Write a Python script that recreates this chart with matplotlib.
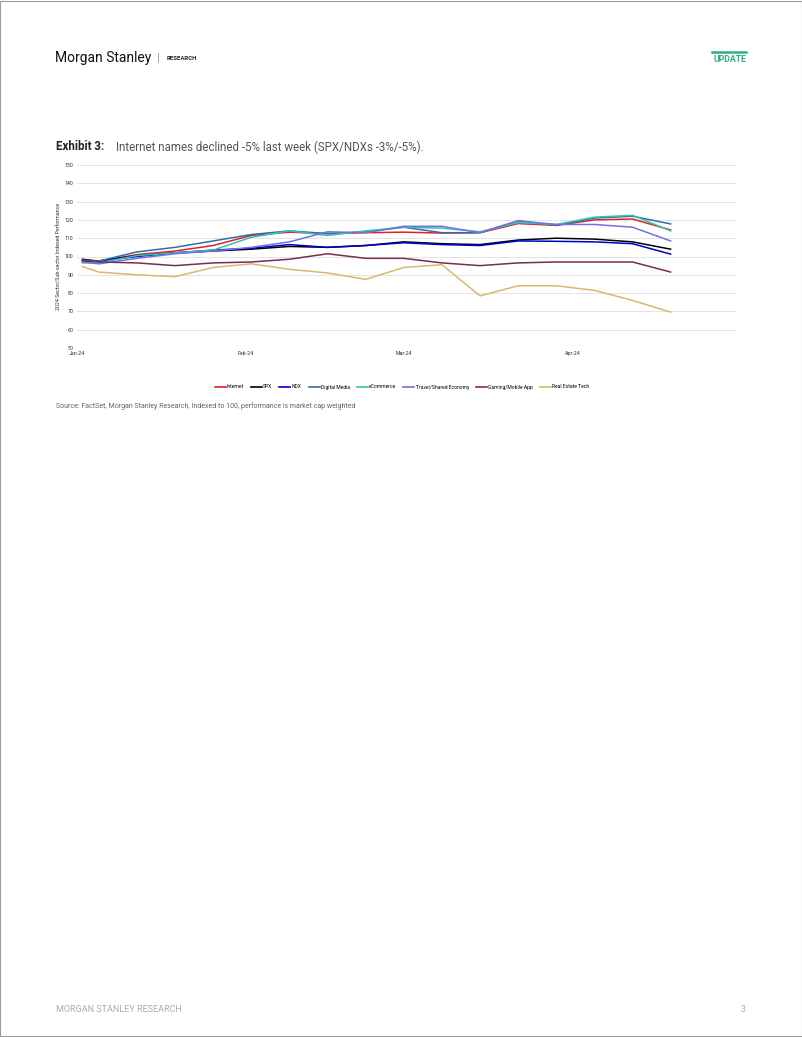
import matplotlib
matplotlib.use("Agg")
import matplotlib.pyplot as plt
import pandas as pd

plt.rcParams['font.family'] = ['Roboto', 'DejaVu Sans']

# ------------------------------------------------------------
# data (weekly)
# ------------------------------------------------------------
dates = pd.to_datetime([
    '2024-01-02', '2024-01-05', '2024-01-12', '2024-01-19', '2024-01-26',
    '2024-02-02', '2024-02-09', '2024-02-16', '2024-02-23', '2024-03-01',
    '2024-03-08', '2024-03-15', '2024-03-22', '2024-03-29', '2024-04-05',
    '2024-04-12', '2024-04-19',
])

internet = [97.5, 97.5, 101, 103, 106, 111.5, 113.3, 112.5, 113, 113.3,
            112.8, 113, 118, 117, 120, 120.5, 114.5]
spx = [98.5, 97.5, 100.5, 102, 103, 104, 105.5, 105, 106, 108,
       107, 106.5, 109, 110, 109.5, 108, 104]
ndx = [97.5, 97.5, 100, 102, 103.5, 104.5, 106.5, 105, 106, 107.5,
       106.5, 106, 108.5, 108.3, 108, 107, 101.3]
digital_media = [98, 97.5, 102.5, 105, 108.5, 112, 114, 112.5, 113.5, 116,
                 113, 113, 119.5, 117, 121, 122, 117.8]
ecommerce = [96.5, 96.5, 100.5, 102, 103.5, 110.5, 114, 111.5, 114, 116,
             115.5, 113.5, 118.5, 117.5, 121.5, 122.5, 114]
travel = [97, 96, 99, 101.5, 103, 105, 108, 113.5, 113, 116.5,
          116.5, 113, 119.5, 117.5, 117.5, 116, 108.5]
gaming = [98, 97, 96.5, 95, 96.5, 97, 98.5, 101.5, 99, 99,
          96.5, 95, 96.5, 97, 97, 97, 91.5]
real_estate = [94.5, 91.5, 90, 89, 94, 96, 93, 91, 87.5, 94,
               95.5, 78.5, 84, 84, 81.5, 76, 69.6]

series_names = ['Internet', 'SPX', 'NDX', 'Digital Media', 'eCommerce',
                'Travel/Shared Economy', 'Gaming/Mobile App', 'Real Estate Tech']
series_values = [internet, spx, ndx, digital_media, ecommerce, travel, gaming, real_estate]
series_colors = ['#e31e2a', '#000000', '#0000c8', '#2f6ea6', '#33c4b0',
                 '#7272e0', '#7a2d4f', '#d8b870']

y_ticks = [50, 60, 70, 80, 90, 100, 110, 120, 130, 140, 150]
x_ticks = pd.to_datetime(['2024-01-01', '2024-02-01', '2024-03-01', '2024-04-01'])
x_tick_labels = ['Jan-24', 'Feb-24', 'Mar-24', 'Apr-24']

# ------------------------------------------------------------
# figure
# ------------------------------------------------------------
W, H = 802, 1037
fig = plt.figure(figsize=(W / 100, H / 100), dpi=100)

def fx(px):
    return px / W

def fy(py):
    return 1 - py / H

# page frame
fig.patches.append(plt.Rectangle((0.0005, 0.0005), 0.999, 0.999, transform=fig.transFigure,
                                 fill=False, edgecolor='#9a9a9a', linewidth=0.8))

# header
fig.text(fx(55), fy(58), 'Morgan Stanley', fontsize=10, color='#111111',
         va='center', ha='left', fontstretch='condensed')
fig.text(fx(157), fy(58), '|', fontsize=8, color='#888888', va='center', ha='left')
fig.text(fx(167), fy(58), 'RESEARCH', fontsize=4.3, color='#222222', fontweight='bold',
         va='center', ha='left')
fig.text(fx(746), fy(59), 'UPDATE', fontsize=6.3, color='#2fae7f', fontweight='bold',
         va='center', ha='right')
fig.add_artist(plt.Line2D([fx(712), fx(746)], [fy(52), fy(52)], color='#2fae7f',
                          linewidth=1.8, transform=fig.transFigure))

# title
fig.text(fx(56), fy(147), 'Exhibit 3:', fontsize=8.3, color='#222222', fontweight='bold',
         va='center', ha='left')
fig.text(fx(116), fy(147), 'Internet names declined -5% last week (SPX/NDXs -3%/-5%).',
         fontsize=8.3, color='#555555', va='center', ha='left')

# chart
ax = fig.add_axes([fx(77), fy(348), fx(736) - fx(77), (348 - 165) / H])
for name, vals, col in zip(series_names, series_values, series_colors):
    ax.plot(dates, vals, color=col, linewidth=1.1, label=name, solid_joinstyle='round')

ax.set_ylim(50, 150)
ax.set_yticks(y_ticks)
ax.set_xlim(pd.Timestamp('2024-01-01'), pd.Timestamp('2024-05-01'))
ax.set_xticks(x_ticks)
ax.set_xticklabels(x_tick_labels)
ax.grid(axis='y', color='#e4e4e4', linewidth=0.7)
ax.set_axisbelow(True)
for s in ax.spines.values():
    s.set_visible(False)
ax.tick_params(axis='both', length=0, labelsize=3.8, colors='#333333', pad=2.5)
ax.set_ylabel('2024 Sector/Sub-sector Indexed Performance', fontsize=3.8, color='#333333',
              labelpad=2)

leg = fig.legend(loc='center', bbox_to_anchor=(fx(402), fy(387)), ncol=8, fontsize=3.6,
                 frameon=False, handlelength=2.2, columnspacing=1.4, handletextpad=0.25)
for line in leg.get_lines():
    line.set_linewidth(1.2)

# source
fig.text(fx(56), fy(406), 'Source: FactSet, Morgan Stanley Research, Indexed to 100, performance is market cap weighted',
         fontsize=5, color='#666666', va='center', ha='left')

# footer
fig.text(fx(56), fy(1009), 'MORGAN STANLEY RESEARCH', fontsize=6.5, color='#a8adb3',
         va='center', ha='left')
fig.text(fx(746), fy(1009), '3', fontsize=6.5, color='#a8adb3', va='center', ha='right')

fig.savefig('out.png', dpi=100)
